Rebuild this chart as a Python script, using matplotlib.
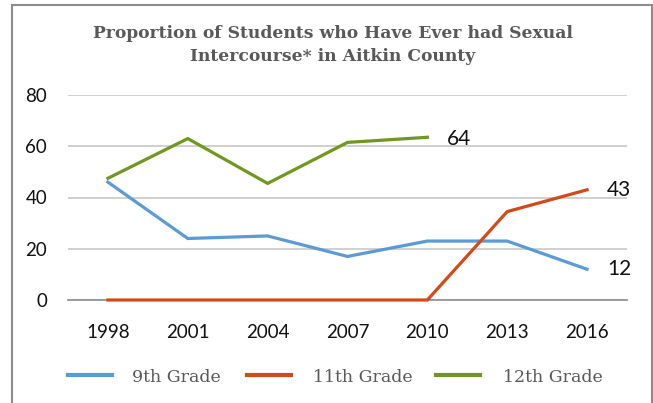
import matplotlib
matplotlib.use("Agg")
import matplotlib.pyplot as plt
import numpy as np
from matplotlib.patches import Rectangle

years = ["1998", "2001", "2004", "2007", "2010", "2013", "2016"]
grade9 = [46, 24, 25, 17, 23, 23, 12]
grade11 = [0, 0, 0, 0, 0, 34.5, 43]
grade12 = [47.5, 63, 45.5, 61.5, 63.5, np.nan, np.nan]
series_names = ["9th Grade", "11th Grade", "12th Grade"]
end_labels = ["12", "43", "64"]
yticks = [0, 20, 40, 60, 80]

W, H = 653, 403
fig = plt.figure(figsize=(W / 100, H / 100), dpi=100)
fig.patch.set_facecolor("white")

# outer chart border
fig.add_artist(Rectangle((12 / W, -0.01), (652 - 12) / W, (H - 5) / H + 0.01,
                         transform=fig.transFigure, fill=False,
                         edgecolor="#8c8c8c", linewidth=1.5))

ax_l, ax_r = 68 / W, 627 / W
y0_px, y80_px = 300, 95
ax = fig.add_axes([ax_l, 1 - y0_px / H, ax_r - ax_l, (y0_px - y80_px) / H])
x = np.arange(len(years))
ax.set_xlim(-0.5, len(years) - 0.5)
ax.set_ylim(0, 80)

colors = ["#5b9bd5", "#d24a1a", "#70981e"]
for vals, c in zip([grade9, grade11, grade12], colors):
    ax.plot(x, vals, color=c, linewidth=2.3, solid_joinstyle="miter", clip_on=False, zorder=3)

for s in ["left", "right", "top"]:
    ax.spines[s].set_visible(False)
ax.spines["bottom"].set_color("#8c8c8c")
ax.spines["bottom"].set_linewidth(1.2)
ax.yaxis.grid(True, color="#c8c8c8", linewidth=1.2)
ax.set_axisbelow(True)
ax.set_yticks(yticks)
ax.tick_params(axis="both", length=0, labelsize=13.5, labelcolor="#111111")
ax.tick_params(axis="y", pad=15)
ax.tick_params(axis="x", pad=17)
ax.set_xticks(x)
ax.set_xticklabels(years)
for lab in ax.get_xticklabels() + ax.get_yticklabels():
    lab.set_fontfamily("Lato")

# end-of-series labels
ax.annotate(end_labels[0], (x[6], grade9[6]), xytext=(23, 0), textcoords="offset points",
            ha="center", va="center", fontsize=15, family="Lato", color="#111111")
ax.annotate(end_labels[1], (x[6], grade11[6]), xytext=(23, 0), textcoords="offset points",
            ha="center", va="center", fontsize=15, family="Lato", color="#111111")
ax.annotate(end_labels[2], (x[4], grade12[4]), xytext=(23, -1), textcoords="offset points",
            ha="center", va="center", fontsize=15, family="Lato", color="#111111")

fig.text(333 / W, 1 - 45 / H, "Proportion of Students who Have Ever had Sexual\nIntercourse* in Aitkin County",
         ha="center", va="center", fontsize=12.3, fontweight="bold", family="DejaVu Serif",
         color="#595959", linespacing=1.45)

# legend
leg_y = 1 - 375 / H
items = [(68, 132), (247, 313), (436, 503)]
for (x0, tx), c in zip(items, colors):
    fig.add_artist(plt.Line2D([x0 / W, (x0 + 44) / W], [leg_y, leg_y], color=c, linewidth=3,
                              transform=fig.transFigure))
for (x0, tx), name in zip(items, series_names):
    fig.text(tx / W, 1 - 377 / H, name, ha="left", va="center", fontsize=12.5,
             family="DejaVu Serif", color="#595959")

fig.savefig("out.png", dpi=100, facecolor="white")
